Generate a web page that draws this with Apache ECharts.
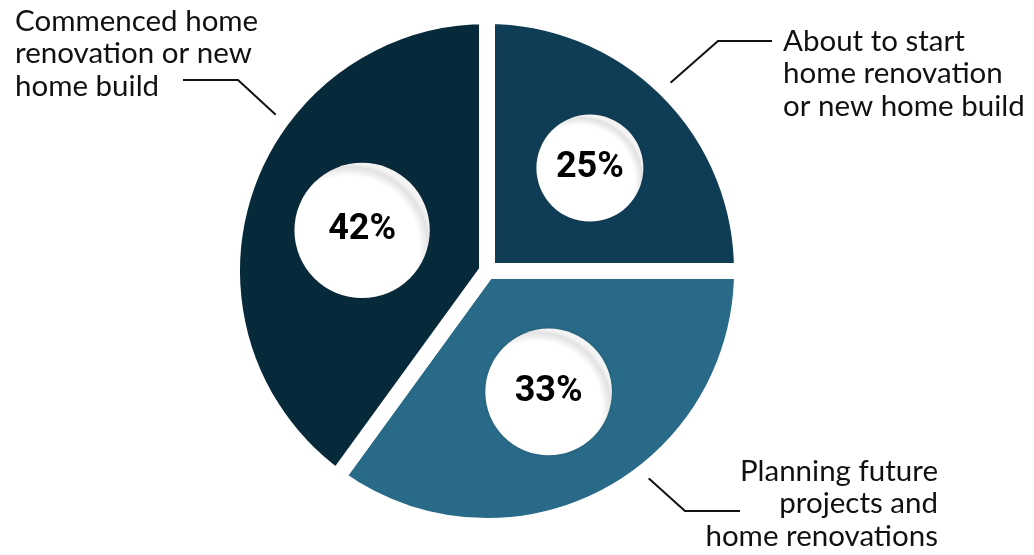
<!DOCTYPE html>
<html><head><meta charset="utf-8">
<script src="https://cdn.jsdelivr.net/npm/echarts@6/dist/echarts.min.js"></script>
<style>html,body{margin:0;padding:0;background:#fff}#c{width:1034px;height:555px}</style>
</head><body><div id="c"></div>
<script>
// ---- data ----
const categories = [
  'About to start\nhome renovation\nor new home build',
  'Planning future\nprojects and\nhome renovations',
  'Commenced home\nrenovation or new\nhome build'
];
// slice sizes as drawn in the picture
const values = [25, 35, 40];
// percentage texts printed on the badges
const percentLabels = ['25%', '33%', '42%'];

// ---- style ----
const colors = ['#0f3d56', '#286a87', '#072a3b'];
const CX = 487, CY = 271, R = 255, GAP = 16;
const VISIBLE_R = R - GAP / 2;
// callout text anchors / leader elbows (annotation layout)
const callouts = [
  { angle: 44,    x: 783, y: 25,  align: 'left',  elbow: [718, 41],  end: [772, 41] },
  { angle: 142.7, x: 938, y: 455, align: 'right', elbow: [685, 511], end: [740, 511] },
  { angle: 306.1, x: 15,  y: 5,   align: 'left',  elbow: [238, 80],  end: [183, 80] }
];
const badgeScale = 10.7;     // badge radius = scale * sqrt(value)
const badgeOuter = 199;      // badges' outer edges sit on this radius

const total = values.reduce((a, b) => a + b, 0);
const midAngles = [];
values.reduce((acc, v) => { midAngles.push((acc + v / 2) / total * 360); return acc + v; }, 0);
const badgeR = values.map(v => badgeScale * Math.sqrt(v));

const badgeFill = {
  type: 'radial', x: 0.4, y: 0.62, r: 0.62,
  colorStops: [
    { offset: 0, color: '#ffffff' },
    { offset: 0.84, color: '#ffffff' },
    { offset: 0.95, color: '#e2e2e2' },
    { offset: 1, color: '#f4f4f4' }
  ]
};

const chart = echarts.init(document.getElementById('c'), null, { renderer: 'canvas' });

const mainData = values.map((v, i) => ({
  value: v, name: categories[i], itemStyle: { color: colors[i] }
}));
const badgeData = values.map((v, i) => {
  const r = badgeR[i];
  return {
    value: v, name: percentLabels[i],
    label: { width: 2 * r, height: 2 * r, lineHeight: 2 * r, borderRadius: r }
  };
});

chart.setOption({
  animation: false,
  backgroundColor: '#ffffff',
  series: [
    {
      type: 'pie',
      center: [CX, CY],
      radius: [0, R],
      startAngle: 90,
      clockwise: true,
      avoidLabelOverlap: false,
      silent: true,
      emphasis: { disabled: true },
      itemStyle: { borderColor: '#ffffff', borderWidth: GAP },
      label: {
        show: true,
        position: 'outside',
        formatter: '{b}',
        color: '#111111',
        fontFamily: 'Lato',
        fontSize: 29.5,
        lineHeight: 32.5
      },
      labelLine: { show: true, lineStyle: { color: '#111111', width: 2 } },
      labelLayout: function (p) {
        const c = callouts[p.dataIndex];
        const a = c.angle * Math.PI / 180;
        const p0 = [CX + VISIBLE_R * Math.sin(a), CY - VISIBLE_R * Math.cos(a)];
        return {
          x: c.x, y: c.y, align: c.align, verticalAlign: 'top',
          labelLinePoints: [p0, c.elbow, c.end]
        };
      },
      data: mainData
    },
    {
      type: 'pie',
      center: [CX, CY],
      radius: [0, R],
      startAngle: 90,
      clockwise: true,
      avoidLabelOverlap: false,
      silent: true,
      z: 5,
      emphasis: { disabled: true },
      itemStyle: { color: 'rgba(0,0,0,0)' },
      label: {
        show: true,
        position: 'inside',
        formatter: '{b}',
        color: '#000000',
        fontFamily: 'Roboto',
        fontWeight: 'bold',
        fontSize: 36,
        align: 'center',
        verticalAlign: 'middle',
        backgroundColor: badgeFill,
        shadowColor: 'rgba(0,0,0,0.18)',
        shadowBlur: 3
      },
      labelLine: { show: false },
      labelLayout: function (p) {
        const i = p.dataIndex;
        const a = midAngles[i] * Math.PI / 180;
        const d = badgeOuter - badgeR[i];
        return { x: CX + d * Math.sin(a), y: CY - d * Math.cos(a), align: 'center', verticalAlign: 'middle' };
      },
      data: badgeData
    }
  ]
});
</script></body></html>
